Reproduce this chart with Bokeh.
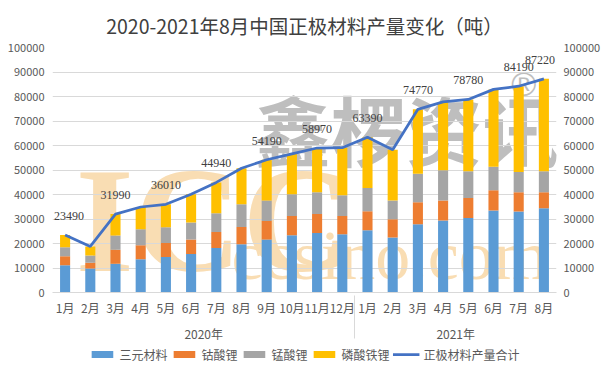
from bokeh.plotting import figure
from bokeh.layouts import column
from bokeh.models import (FactorRange, Range1d, LinearAxis, Legend, LegendItem, LabelSet,
                          ColumnDataSource, Label, SingleIntervalTicker, BasicTickFormatter)
from bokeh.embed import file_html
from bokeh.resources import INLINE

# ---------------- data ----------------
years = ["2020年"] * 12 + ["2021年"] * 8
months = ["1月", "2月", "3月", "4月", "5月", "6月", "7月", "8月", "9月", "10月", "11月", "12月",
          "1月", "2月", "3月", "4月", "5月", "6月", "7月", "8月"]
ternary = [11100, 9800, 11700, 13600, 14500, 15700, 18200, 19700, 21600, 23400, 24300, 23800,
           25400, 22500, 27900, 29400, 30400, 33500, 33100, 34400]
lco = [3700, 2300, 5800, 5700, 5700, 5900, 6500, 7000, 7600, 7800, 7700, 7400,
       7800, 7400, 8900, 8200, 8200, 8200, 7800, 6500]
lmo = [3700, 3000, 5800, 6500, 6400, 7000, 7600, 9300, 8400, 8900, 8900, 8500,
       9500, 7700, 11700, 12300, 10900, 9600, 8300, 8600]
lfp = [5000, 3700, 8700, 9100, 9400, 11500, 12600, 14700, 16600, 16500, 18100, 19400,
       20700, 20700, 26300, 27900, 29300, 31600, 35000, 37700]
total = [23490, 18800, 31990, 34900, 36010, 40100, 44940, 50700, 54190, 56600, 58970, 59100,
         63390, 58300, 74770, 77800, 78780, 82900, 84190, 87220]
labelled = [True, False, True, False, True, False, True, False, True, False, True, False,
            True, False, True, False, True, False, True, True]

series_names = ["三元材料", "钴酸锂", "锰酸锂", "磷酸铁锂"]
line_name = "正极材料产量合计"
title = "2020-2021年8月中国正极材料产量变化（吨）"

colors = ["#5B9BD5", "#ED7D31", "#A5A5A5", "#FFC000"]
line_color = "#4472C4"
FONT = "Noto Sans CJK SC"
TXT = "#595959"

factors = list(zip(years, months))
src = ColumnDataSource(dict(x=factors, tern=ternary, co=lco, mn=lmo, lfp=lfp, total=total))
lab_x = [f for f, k in zip(factors, labelled) if k]
lab_y = [t for t, k in zip(total, labelled) if k]
# nudge only the first and last labels so they stay inside the plot area
lab_dx = [4] + [0] * (len(lab_x) - 2) + [-4]
lab_src = ColumnDataSource(dict(x=lab_x, y=lab_y, t=[str(v) for v in lab_y], dx=lab_dx))
stackers = ["tern", "co", "mn", "lfp"]

xr = FactorRange(*factors, range_padding=0, group_padding=0, factor_padding=0, subgroup_padding=0)
p = figure(x_range=xr, y_range=Range1d(0, 100000), width=603, height=344,
           output_backend="svg", toolbar_location=None,
           min_border_left=52, min_border_right=44, min_border_top=47, min_border_bottom=52)
p.outline_line_color = None
p.background_fill_color = "white"
p.border_fill_color = "white"

# title
p.title.text = title
p.title.align = "center"
p.title.offset = 8
p.title.standoff = 16
p.title.text_font = FONT
p.title.text_font_size = "19.5px"
p.title.text_font_style = "normal"
p.title.text_color = "#404040"

# watermark (under everything)
wm_orange = "#F9DDB3"
wm_gray = "#BEBEBE"
p.add_layout(Label(x=0.91, y=29400, text="ICC", text_font="Liberation Sans Narrow",
                   text_font_style="bold", text_font_size="150px", text_color=wm_orange,
                   text_align="left", text_baseline="alphabetic", level="image"))
p.add_layout(Label(x=14.05, y=67100, text="鑫椤资讯", text_font=FONT, text_font_style="bold",
                   text_font_size="76px", text_color=wm_gray, text_align="center",
                   text_baseline="middle", level="image"))
p.add_layout(Label(x=18.7, y=85000, text="®", text_font="Liberation Sans", text_font_size="34px",
                   text_color=wm_gray, text_align="center", text_baseline="middle", level="image"))
p.add_layout(Label(x=7.1, y=15100, text="ccsino.com", text_font="Liberation Sans Narrow",
                   text_font_size="70px", text_color=wm_orange, text_align="left",
                   text_baseline="alphabetic", level="image"))

# bars, line, labels
bars = p.vbar_stack(stackers, x="x", width=0.4, source=src, fill_color=colors, line_color=None)
ln = p.line(x="x", y="total", source=src, line_color=line_color, line_width=2.75)
p.add_layout(LabelSet(x="x", y="y", text="t", source=lab_src, text_align="center",
                      text_baseline="middle", y_offset=19, x_offset="dx", text_font=FONT,
                      text_font_size="12px", text_color="#404040"))

# axes
ticker = SingleIntervalTicker(interval=10000)
fmt = BasicTickFormatter(use_scientific=False)
p.yaxis.ticker = ticker
p.yaxis.formatter = fmt
ax2 = LinearAxis(ticker=ticker, formatter=fmt)
p.add_layout(ax2, "right")
for ax in (p.yaxis[0], ax2):
    ax.axis_line_color = None
    ax.major_tick_line_color = None
    ax.minor_tick_line_color = None
    ax.major_tick_out = 0
    ax.major_tick_in = 0
    ax.minor_tick_out = 0
    ax.major_label_text_font = FONT
    ax.major_label_text_font_size = "11px"
    ax.major_label_text_color = TXT
ax2.major_label_standoff = 7
p.yaxis[0].major_label_standoff = 8

xa = p.xaxis[0]
xa.axis_line_color = "#D9D9D9"
xa.major_tick_line_color = None
xa.minor_tick_line_color = None
xa.major_tick_out = 0
xa.major_tick_in = 0
xa.major_label_orientation = "horizontal"
xa.major_label_text_font = FONT
xa.major_label_text_font_size = "12px"
xa.major_label_text_color = TXT
xa.major_label_standoff = 6
xa.group_text_font = FONT
xa.group_text_font_size = "12px"
xa.group_text_font_style = "normal"
xa.group_text_color = TXT
xa.separator_line_color = "#D9D9D9"
xa.separator_line_width = 1

p.xgrid.visible = False
p.ygrid.ticker = ticker
p.ygrid.grid_line_color = "#D9D9D9"

# legend in its own strip below the chart: same series, renderers hidden, swatches shown
leg = figure(width=603, height=20, output_backend="svg", toolbar_location=None,
             x_range=xr, y_range=Range1d(0, 100000), x_axis_type=None, y_axis_type=None,
             min_border=0)
leg.outline_line_color = None
leg.grid.visible = False
sw = leg.vbar_stack(stackers, x="x", width=0.4, source=src, fill_color=colors, line_color=None)
sw_line = leg.line(x="x", y="total", source=src, line_color=line_color, line_width=2.75)
for r in list(sw) + [sw_line]:
    r.visible = False
items = [LegendItem(label=n, renderers=[r]) for n, r in zip(series_names, sw)]
items.append(LegendItem(label=line_name, renderers=[sw_line]))
legend = Legend(items=items, orientation="horizontal", location="center",
                glyph_width=27, glyph_height=9, label_text_font=FONT,
                label_text_font_size="12px", label_text_color=TXT, spacing=3,
                label_standoff=4, border_line_color=None, padding=0, margin=0,
                background_fill_alpha=0, inactive_fill_alpha=0)
leg.add_layout(legend, "center")

open("out.html", "w").write(file_html(column(p, leg), INLINE))
